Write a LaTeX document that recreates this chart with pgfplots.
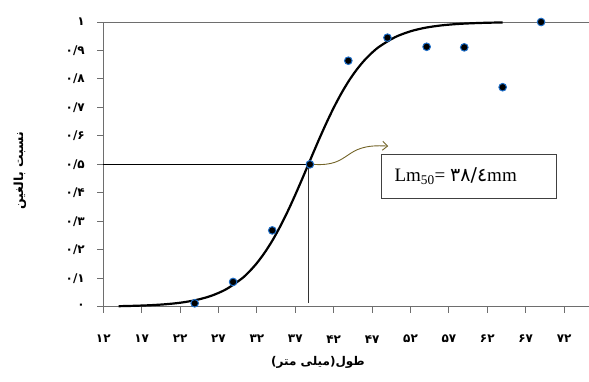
\documentclass[border=0pt]{standalone}
\usepackage{fontspec}
\usepackage{pgfplots}
\pgfplotsset{compat=1.18}
\usetikzlibrary{arrows.meta}
\setmainfont{Liberation Serif}
\newfontfamily\arabicfont[Script=Arabic]{DejaVu Sans}
\newfontfamily\digfont{DejaVu Sans}
\TeXXeTstate=1
\definecolor{mk}{RGB}{30,110,200}
\definecolor{arr}{RGB}{115,100,40}
\definecolor{ax}{RGB}{110,110,110}
\begin{document}
\begin{tikzpicture}
\begin{axis}[
  at={(0,0)}, anchor=south west,
  scale only axis, width=485.7pt, height=284.7pt,
  xmin=12, xmax=75.24, ymin=0, ymax=1,
  axis x line=bottom, axis y line=left,
  axis line style={-, ax, line width=0.9pt},
  clip=false,
  xtick={12,17,...,72},
  xticklabels={۱۲,۱۷,۲۲,۲۷,۳۲,۳۷,۴۲,۴۷,۵۲,۵۷,۶۲,۶۷,۷۲},
  ytick={0,0.1,0.2,0.3,0.4,0.5,0.6,0.7,0.8,0.9,1},
  yticklabels={۰,۰/۱,۰/۲,۰/۳,۰/۴,۰/۵,۰/۶,۰/۷,۰/۸,۰/۹,۱},
  tick align=outside, major tick length=6pt,
  tick style={ax, line width=0.9pt},
  xticklabel style={font=\digfont\bfseries\fontsize{12}{12}\selectfont, yshift=-19pt},
  yticklabel style={font=\digfont\bfseries\fontsize{12}{12}\selectfont, xshift=-9pt},
]
% top line at y=1
\addplot[ax, line width=0.9pt] coordinates {(12,1) (75.24,1)};
% reference lines
\addplot[black, line width=0.8pt] coordinates {(12,0.5) (38.75,0.5)};
\addplot[black!80, line width=0.8pt] coordinates {(38.7,0.5) (38.7,0.012)};
% fitted curve
\addplot[black, line width=2.2pt, smooth] coordinates {
(14,0.0018)(16,0.0031)(18,0.0051)(20,0.0084)(22,0.0139)(24,0.0230)(26,0.0377)
(28,0.0613)(30,0.0981)(31,0.1231)(32,0.1533)(33,0.1895)(34,0.2317)(35,0.2802)
(36,0.3343)(37,0.3933)(38,0.4555)(39,0.5191)(40,0.5822)(41,0.6425)(42,0.6988)
(43,0.7496)(44,0.7944)(45,0.8329)(46,0.8655)(47,0.8925)(48,0.9146)(50,0.9469)
(52,0.9674)(54,0.9802)(56,0.9880)(58,0.9928)(60,0.9956)(62,0.9974)(64,0.9984)};
% observed points
\addplot[only marks, mark=*, mark size=3.8pt, mark options={fill=black, draw=mk, line width=1pt}] coordinates {
(23.9,0.012)(28.9,0.087)(34.0,0.268)(38.9,0.5)(43.9,0.864)(49.0,0.945)
(54.1,0.913)(59.0,0.911)(64.0,0.771)(69.0,1.0)};
% annotation
\draw[arr, line width=0.9pt, -{Straight Barb[length=5pt,width=9pt]}]
  (axis cs:39.3,0.5) .. controls (axis cs:44.5,0.49) and (axis cs:43.0,0.575) .. (axis cs:49.1,0.564);
\node[draw=black!75, line width=0.8pt, minimum width=175pt, minimum height=44pt, inner sep=0pt]
  (bx) at (axis cs:59.65,0.458) {};
\node[anchor=west, inner sep=0pt, font=\fontsize{19}{19}\selectfont] at ([xshift=13pt]bx.west)
  {Lm\textsubscript{50}= {\digfont ۳۸/٤}mm};
% axis labels
\node[font=\arabicfont\bfseries\fontsize{12}{12}\selectfont] at (axis description cs:0.442,-0.197)
  {\beginR طول(میلی متر)\endR};
\node[rotate=90, font=\arabicfont\bfseries\fontsize{12.5}{12.5}\selectfont] at (axis description cs:-0.1715,0.477)
  {\beginR نسبت بالغین\endR};
\end{axis}
\pgfresetboundingbox
\path (-103.3pt,-74.3pt) rectangle (485.7pt,306.7pt);
\end{tikzpicture}
\end{document}
